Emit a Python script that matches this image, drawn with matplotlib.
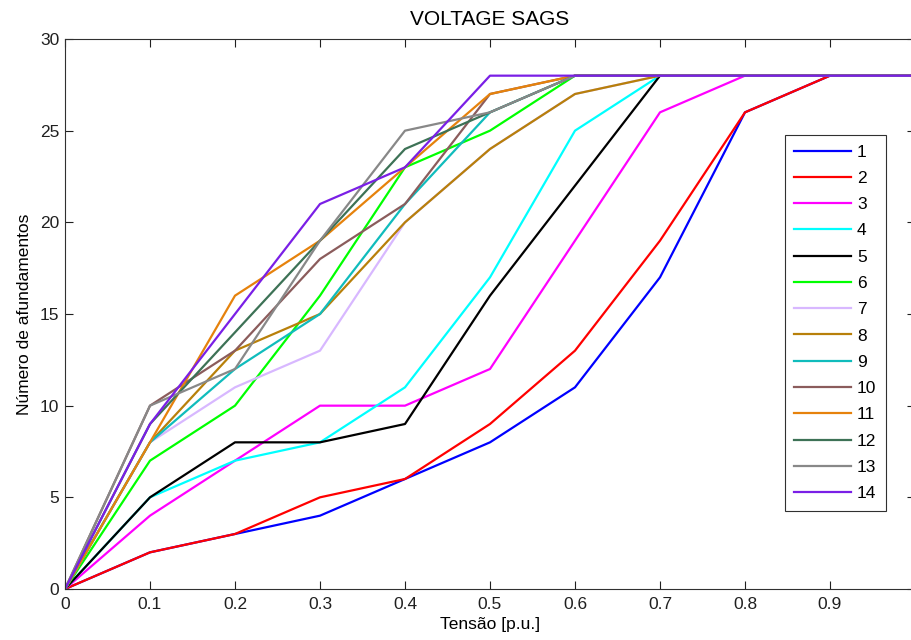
import numpy as np
import matplotlib
matplotlib.use("Agg")
import matplotlib.pyplot as plt

plt.rcParams['font.family'] = ['Liberation Sans', 'DejaVu Sans']
plt.rcParams['font.size'] = 12.5

tensao = [0, 0.1, 0.2, 0.3, 0.4, 0.5, 0.6, 0.7, 0.8, 0.9, 1.0]

s1 = [0, 2, 3, 4, 6, 8, 11, 17, 26, 28, 28]
s2 = [0, 2, 3, 5, 6, 9, 13, 19, 26, 28, 28]
s3 = [0, 4, 7, 10, 10, 12, 19, 26, 28, 28, 28]
s4 = [0, 5, 7, 8, 11, 17, 25, 28, 28, 28, 28]
s5 = [0, 5, 8, 8, 9, 16, 22, 28, 28, 28, 28]
s6 = [0, 7, 10, 16, 23, 25, 28, 28, 28, 28, 28]
s7 = [0, 8, 11, 13, 20, 24, 27, 28, 28, 28, 28]
s8 = [0, 8, 13, 15, 20, 24, 27, 28, 28, 28, 28]
s9 = [0, 8, 12, 15, 21, 26, 28, 28, 28, 28, 28]
s10 = [0, 10, 13, 18, 21, 27, 28, 28, 28, 28, 28]
s11 = [0, 8, 16, 19, 23, 27, 28, 28, 28, 28, 28]
s12 = [0, 9, 14, 19, 24, 26, 28, 28, 28, 28, 28]
s13 = [0, 10, 12, 19, 25, 26, 28, 28, 28, 28, 28]
s14 = [0, 9, 15, 21, 23, 28, 28, 28, 28, 28, 28]

series = [s1, s2, s3, s4, s5, s6, s7, s8, s9, s10, s11, s12, s13, s14]
labels = [str(i) for i in range(1, 15)]
colors = ['#0000ff', '#ff0000', '#ff00ff', '#00ffff', '#000000', '#00ff00',
          '#d8b8ff', '#b8800a', '#10bcbc', '#8b5c5c', '#e6820c', '#3d7256',
          '#888888', '#7a1fe6']

fig = plt.figure(figsize=(9.12, 6.4), dpi=100)
ax = fig.add_axes([65/912, 1 - 589/640, 850/912, 550/640])

for y, c, lab in zip(series, colors, labels):
    ax.plot(tensao, y, color=c, lw=1.6, label=lab)

ax.set_xlim(0, 1)
ax.set_ylim(0, 30)
ax.set_xticks(np.arange(0, 0.95, 0.1))
ax.set_xticklabels(['0', '0.1', '0.2', '0.3', '0.4', '0.5', '0.6', '0.7', '0.8', '0.9'])
ax.set_yticks(range(0, 31, 5))
ax.tick_params(direction='in', top=True, right=True, length=6, width=0.8,
               colors='#202020')
ax.tick_params(axis='x', pad=6)
ax.tick_params(axis='y', pad=4)
for sp in ax.spines.values():
    sp.set_color('#303030')
    sp.set_linewidth(0.8)
ax.spines['right'].set_visible(False)

ax.set_title('VOLTAGE SAGS', pad=10)
ax.set_xlabel('Tensão [p.u.]', labelpad=3)
ax.set_ylabel('Número de afundamentos', labelpad=6)

leg = ax.legend(loc='upper left', bbox_to_anchor=(0.847, 0.8255),
                labelspacing=0.64, handlelength=3.25,
                handletextpad=0.35, borderpad=0.55, borderaxespad=0,
                fancybox=False, framealpha=1, edgecolor='#303030')
leg.get_frame().set_linewidth(0.8)

fig.savefig('out.png', dpi=100)
